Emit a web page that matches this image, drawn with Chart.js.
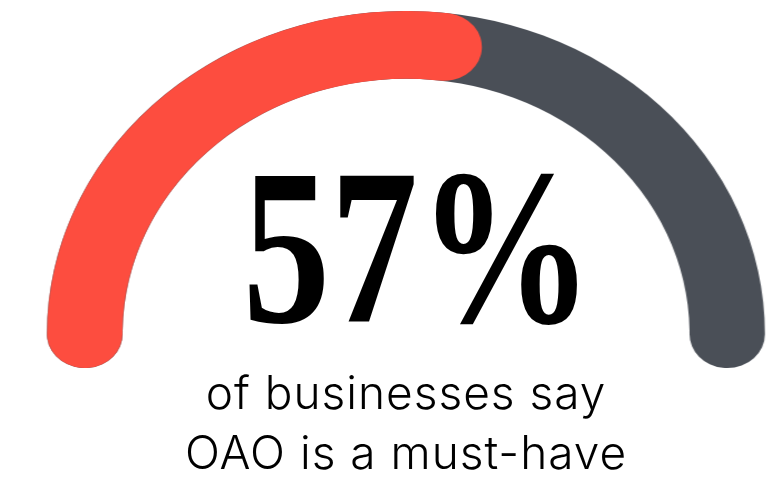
<!DOCTYPE html>
<html>
<head>
<meta charset="utf-8">
<script src="https://cdn.jsdelivr.net/npm/chart.js@4/dist/chart.umd.min.js"></script>
<style>
  html, body { margin: 0; padding: 0; background: #ffffff; }
  #stage { position: relative; width: 774px; height: 478px; overflow: hidden; background: #ffffff; }
  #gauge { position: absolute; left: 56px; top: 11px; width: 700px; height: 361px;
           transform: scaleX(1.112); transform-origin: 50% 50%; }
  #gauge canvas { position: absolute; left: 0; top: 0; }
  #big { position: absolute; left: 4px; width: 828px; top: 136px; text-align: center;
         font-family: "Liberation Serif", "DejaVu Serif", serif; font-weight: bold;
         font-size: 222px; line-height: 1; color: #000; white-space: nowrap;
         transform: scaleX(0.79); transform-origin: 414px 50%; }
  #caption { position: absolute; left: 0; width: 812px; top: 362px; text-align: center;
             font-family: Inter, "Noto Sans", sans-serif; font-weight: 300;
             font-size: 46px; letter-spacing: 1px; line-height: 60px; color: #000; }
</style>
</head>
<body>
<div id="stage">
  <div id="gauge">
    <canvas id="track" width="700" height="361"></canvas>
    <canvas id="share" width="700" height="361"></canvas>
  </div>
  <div id="big"></div>
  <div id="caption"></div>
</div>
<script>
// Survey result: share of businesses calling OAO a must-have
const categories = ['Must-have', 'Not a must-have'];
const shareValues = [57, 43];
const trackValues = [100];
const captionLines = ['of businesses say', 'OAO is a must-have'];

const RED = '#FD4D3F';
const GRAY = '#4A4F57';

// the arc runs a little past horizontal on both sides so the rounded ends hang below
const overhang = 6.8;
const arcRotation = -90 - overhang;
const arcSweep = 180 + 2 * overhang;

function gaugeOptions() {
  return {
    responsive: false,
    animation: false,
    events: [],
    rotation: arcRotation,
    circumference: arcSweep,
    cutout: '79%',
    layout: { padding: 0 },
    plugins: { legend: { display: false }, tooltip: { enabled: false } }
  };
}

new Chart(document.getElementById('track'), {
  type: 'doughnut',
  data: {
    labels: ['Total'],
    datasets: [{ data: trackValues, backgroundColor: [GRAY], borderWidth: 0,
                 hoverOffset: 0, borderRadius: 40 }]
  },
  options: gaugeOptions()
});

new Chart(document.getElementById('share'), {
  type: 'doughnut',
  data: {
    labels: categories,
    datasets: [{ data: shareValues, backgroundColor: [RED, 'rgba(0,0,0,0)'], borderWidth: 0,
                 hoverOffset: 0, borderRadius: [40, 0] }]
  },
  options: gaugeOptions()
});

document.getElementById('big').textContent = shareValues[0] + '%';
document.getElementById('caption').innerHTML = captionLines.join('<br>');
</script>
</body>
</html>
